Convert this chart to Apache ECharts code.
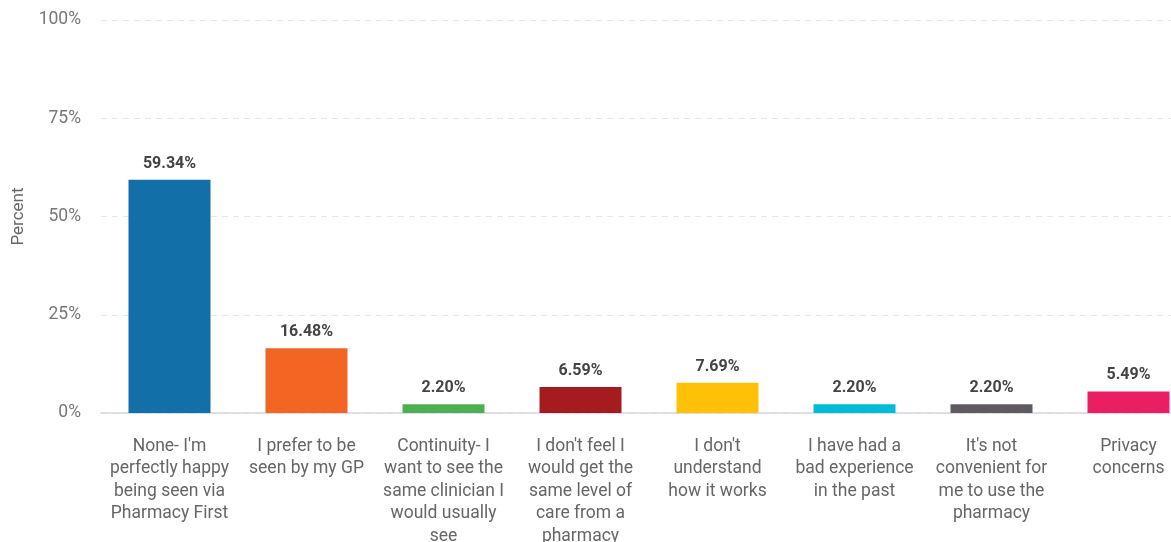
<!DOCTYPE html>
<html>
<head>
<meta charset="utf-8">
<script src="https://cdn.jsdelivr.net/npm/echarts@6/dist/echarts.min.js"></script>
<style>
    html, body { margin: 0; padding: 0; overflow: hidden; background: #fff; }
    #chart { width: 1171px; height: 542px; }
</style>
</head>
<body>
<div id="chart"></div>
<script>
    // category labels (line breaks as in the original)
    var categories = [
        "None- I'm\nperfectly happy\nbeing seen via\nPharmacy First",
        "I prefer to be\nseen by my GP",
        "Continuity- I\nwant to see the\nsame clinician I\nwould usually\nsee",
        "I don't feel I\nwould get the\nsame level of\ncare from a\npharmacy",
        "I don't\nunderstand\nhow it works",
        "I have had a\nbad experience\nin the past",
        "It's not\nconvenient for\nme to use the\npharmacy",
        "Privacy\nconcerns"
    ];
    var values = [59.34, 16.48, 2.20, 6.59, 7.69, 2.20, 2.20, 5.49];
    var barColors = ['#126fa8', '#f26522', '#4caf50', '#a51c1e', '#ffc107', '#00bcd4', '#5f5a62', '#e91e63'];

    var chart = echarts.init(document.getElementById('chart'));
    var option = {
        animation: false,
        grid: {
            left: 101,
            right: -26,
            top: 20,
            bottom: 129,
            containLabel: false,
            outerBoundsMode: 'none'
        },
        xAxis: {
            type: 'category',
            data: categories,
            axisTick: {show: false},
            axisLine: {lineStyle: {color: '#d4d6e6', width: 1.5}},
            axisLabel: {
                interval: 0,
                color: '#666666',
                fontFamily: 'Roboto',
                fontSize: 17.5,
                lineHeight: 22.5,
                margin: 22,
                verticalAlign: 'top'
            }
        },
        yAxis: {
            type: 'value',
            min: 0,
            max: 100,
            interval: 25,
            name: 'Percent',
            nameLocation: 'middle',
            nameGap: 74,
            nameTextStyle: {color: '#666666', fontFamily: 'Roboto', fontSize: 17},
            axisLine: {show: false},
            axisTick: {show: false},
            axisLabel: {
                formatter: '{value}%',
                color: '#777777',
                fontFamily: 'Roboto',
                fontSize: 17.5,
                margin: 20
            },
            splitLine: {lineStyle: {color: '#e6e6e6', type: [6, 5]}}
        },
        series: [{
            type: 'bar',
            barWidth: 82,
            data: values.map(function (v, i) {
                return {value: v, itemStyle: {color: barColors[i]}};
            }),
            label: {
                show: true,
                position: 'top',
                distance: 8,
                color: '#444444',
                fontFamily: 'Roboto',
                fontWeight: 'bold',
                fontSize: 16,
                formatter: function (p) { return p.value.toFixed(2) + '%'; }
            }
        }]
    };
    chart.setOption(option);
</script>
</body>
</html>
